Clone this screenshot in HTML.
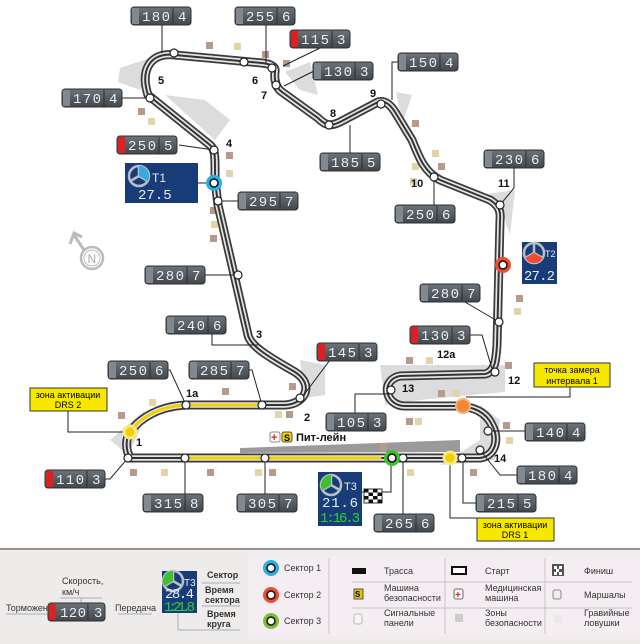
<!DOCTYPE html>
<html><head><meta charset="utf-8"><style>
html,body{margin:0;padding:0;background:#fff;width:640px;height:644px;overflow:hidden}
svg{display:block}
text{font-family:"Liberation Sans",sans-serif}
.d{font-family:"Liberation Mono",monospace;fill:#e8eef0;font-size:14px}
.n{font-size:11px;font-weight:bold;fill:#111}
.l{font-size:9px;fill:#333}
.ln{stroke:#222;stroke-width:1;fill:none}
</style></head><body>
<svg width="640" height="644" viewBox="0 0 640 644" xmlns="http://www.w3.org/2000/svg">
<defs>
<linearGradient id="bg" x1="0" y1="0" x2="0" y2="1"><stop offset="0" stop-color="#6c7379"/><stop offset="1" stop-color="#41474c"/></linearGradient>
<g id="bx"><rect x="0" y="0" width="60" height="18" rx="3" fill="url(#bg)" stroke="#2b2f33"/><rect x="1" y="1" width="7" height="16" fill="#818890"/><line x1="42" y1="1" x2="42" y2="17" stroke="#2b2f33"/></g>
<g id="bxr"><rect x="0" y="0" width="60" height="18" rx="3" fill="url(#bg)" stroke="#2b2f33"/><rect x="1" y="1" width="7" height="16" fill="#e02020"/><line x1="42" y1="1" x2="42" y2="17" stroke="#2b2f33"/></g>
<g id="star"><circle r="10" fill="none" stroke="#b8c0c6" stroke-width="2.5"/><path d="M0,0 L0,-9 M0,0 L7.8,4.5 M0,0 L-7.8,4.5" stroke="#b8c0c6" stroke-width="2.5"/></g>
<path id="tr" d="M130,458 L480,458 C495,456 500,440 492,425 C485,410 470,406 455,406 L405,406 C385,406 380,380 400,376 L485,374 C495,372 496,360 497,345 L500,220 C501,210 498,205 490,200 L440,180 C425,172 420,160 412,140 L395,112 C390,104 384,100 378,102 L340,122 C330,127 325,125 318,118 L282,92 C276,88 274,80 275,72 C276,66 270,64 262,63 L175,55 C150,52 140,70 148,95 L210,145 C216,150 215,160 215,180 L218,205 L248,335 C250,345 265,355 295,372 C315,385 305,404 285,405 L190,405 C160,405 140,418 130,432 C125,440 126,450 130,458 Z"/>
</defs>

<!-- runoff areas -->
<g fill="#dcdcdc">
<path d="M120,68 L150,58 L140,90 L118,82Z"/>
<path d="M165,95 L205,100 L230,120 L215,140 Z"/>
<path d="M285,72 L310,62 L318,95 L300,90 Z"/>
<path d="M396,92 L412,95 L402,125 Z"/>
<path d="M440,180 L480,195 L515,190 L510,235 L500,205 L455,190 Z"/>
<path d="M110,440 L145,410 L140,430 L128,455 Z"/>
<path d="M300,360 L325,365 L325,395 L305,398 Z"/>
<path d="M380,365 L505,365 L505,392 L470,395 L420,400 L385,405 Z"/>
<path d="M480,405 L500,420 L495,460 L440,465 L480,440Z"/>
<path d="M240,448 L460,440 L460,452 L240,453 Z" fill="#9a9a9a"/>
</g>
<!-- marshal squares -->
<g fill="#b89a8a">
<rect x="206" y="42" width="7" height="7"/><rect x="262" y="51" width="7" height="7"/><rect x="138" y="108" width="7" height="7"/><rect x="226" y="152" width="7" height="7"/><rect x="412" y="120" width="7" height="7"/><rect x="438" y="163" width="7" height="7"/><rect x="210" y="235" width="7" height="7"/><rect x="516" y="295" width="7" height="7"/><rect x="210" y="207" width="7" height="7"/><rect x="283" y="60" width="7" height="7"/><rect x="118" y="412" width="7" height="7"/><rect x="222" y="388" width="7" height="7"/><rect x="289" y="383" width="7" height="7"/><rect x="286" y="411" width="7" height="7"/><rect x="130" y="469" width="7" height="7"/><rect x="207" y="469" width="7" height="7"/><rect x="269" y="469" width="7" height="7"/><rect x="406" y="357" width="7" height="7"/><rect x="505" y="362" width="7" height="7"/><rect x="438" y="390" width="7" height="7"/><rect x="406" y="418" width="7" height="7"/><rect x="503" y="422" width="7" height="7"/><rect x="470" y="469" width="7" height="7"/><rect x="380" y="443" width="7" height="7"/></g>
<g fill="#e0d4a8">
<rect x="234" y="43" width="7" height="7"/><rect x="148" y="118" width="7" height="7"/><rect x="226" y="170" width="7" height="7"/><rect x="432" y="150" width="7" height="7"/><rect x="211" y="221" width="7" height="7"/><rect x="412" y="163" width="7" height="7"/><rect x="514" y="308" width="7" height="7"/><rect x="149" y="399" width="7" height="7"/><rect x="275" y="411" width="7" height="7"/><rect x="161" y="469" width="7" height="7"/><rect x="255" y="469" width="7" height="7"/><rect x="426" y="357" width="7" height="7"/><rect x="453" y="390" width="7" height="7"/><rect x="415" y="418" width="7" height="7"/><rect x="506" y="437" width="7" height="7"/><rect x="407" y="469" width="7" height="7"/><rect x="410" y="178" width="7" height="7"/></g>

<!-- track -->
<g fill="none" stroke-linejoin="round" stroke-linecap="round">
<use href="#tr" stroke="#3a3a3a" stroke-width="9"/>
<use href="#tr" stroke="#e4e4e4" stroke-width="5.5"/>
<use href="#tr" stroke="#333" stroke-width="2"/>
<path d="M185,458 L380,458" stroke="#f0d000" stroke-width="3"/>
<path d="M130,432 C140,418 160,405 190,405 L262,405" stroke="#f0d000" stroke-width="3"/>
</g>

<!-- connector lines -->
<g class="ln">
<path d="M162,25 V53"/><path d="M266,25 V63"/><path d="M320,48 L283,66"/><path d="M314,71 L284,86"/><path d="M400,62 H392 V100"/>
<path d="M120,98 H150"/><path d="M179,145 L214,150"/><path d="M198,183 H214"/><path d="M238,201 H218"/><path d="M350,153 V125"/>
<path d="M514,168 V188 L500,205"/><path d="M434,177 V205"/><path d="M205,275 H238"/><path d="M465,302 L499,322"/>
<path d="M212,334 V345 H258"/><path d="M470,335 H482 L493,372"/><path d="M348,343 L330,360 L300,400"/>
<path d="M158,370 H170 L186,405"/><path d="M244,370 H252 L262,405"/><path d="M355,413 V394 H391"/>
<path d="M525,431 H488"/><path d="M517,475 H500 L480,450"/><path d="M476,503 H463 V458"/><path d="M403,514 V458"/>
<path d="M103,479 H110 L128,458"/><path d="M185,494 V458"/><path d="M265,494 V458"/>
<path d="M362,492 H391 V460"/><path d="M570,380 V397 H466"/><path d="M450,458 V518 H477"/><path d="M68,406 V432 H130"/>
</g>

<!-- nodes -->
<g fill="#fff" stroke="#222" stroke-width="1.2">
<circle cx="174" cy="53" r="4"/><circle cx="244" cy="62" r="4"/><circle cx="272" cy="68" r="4"/><circle cx="276" cy="85" r="4"/><circle cx="329" cy="125" r="4"/><circle cx="381" cy="104" r="4"/><circle cx="150" cy="98" r="4"/><circle cx="214" cy="150" r="4"/><circle cx="218" cy="201" r="4"/><circle cx="434" cy="177" r="4"/><circle cx="500" cy="205" r="4"/><circle cx="238" cy="275" r="4"/><circle cx="499" cy="322" r="4"/><circle cx="495" cy="372" r="4"/><circle cx="300" cy="398" r="4"/><circle cx="262" cy="405" r="4"/><circle cx="186" cy="405" r="4"/><circle cx="391" cy="390" r="4"/><circle cx="488" cy="431" r="4"/><circle cx="480" cy="450" r="4"/><circle cx="462" cy="458" r="4"/><circle cx="403" cy="458" r="4"/><circle cx="128" cy="458" r="4"/><circle cx="185" cy="458" r="4"/><circle cx="265" cy="458" r="4"/>
</g>
<circle cx="214" cy="183" r="6" fill="#fff" stroke="#2ab0e0" stroke-width="4"/><circle cx="214" cy="183" r="4" fill="none" stroke="#111" stroke-width="1.5"/>
<circle cx="503" cy="265" r="6" fill="#fff" stroke="#f04a30" stroke-width="4"/><circle cx="503" cy="265" r="4" fill="none" stroke="#111" stroke-width="1.5"/>
<circle cx="392" cy="458" r="6" fill="#fff" stroke="#40c030" stroke-width="4"/><circle cx="392" cy="458" r="4" fill="none" stroke="#111" stroke-width="1.5"/>
<circle cx="463" cy="406" r="7" fill="#f08a30" stroke="#f0b080" stroke-width="2"/>
<circle cx="450" cy="458" r="6" fill="#f0d000" stroke="#f8e880" stroke-width="3"/>
<circle cx="130" cy="432" r="6" fill="#f0d000" stroke="#f8e880" stroke-width="3"/>

<!-- turn numbers -->
<g class="n">
<text x="158" y="84">5</text><text x="252" y="84">6</text><text x="261" y="99">7</text><text x="330" y="117">8</text><text x="370" y="97">9</text><text x="226" y="147">4</text><text x="411" y="187">10</text><text x="498" y="187">11</text><text x="256" y="338">3</text><text x="437" y="358">12a</text><text x="508" y="384">12</text><text x="402" y="392">13</text><text x="186" y="397">1a</text><text x="304" y="421">2</text><text x="136" y="446">1</text><text x="494" y="462">14</text>
</g>

<!-- speed boxes -->
<g>
<use href="#bx" x="131" y="7"/><text class="d" x="142" y="21" textLength="28">180</text><text class="d" x="178" y="21">4</text>
<use href="#bx" x="235" y="7"/><text class="d" x="246" y="21" textLength="28">255</text><text class="d" x="282" y="21">6</text>
<use href="#bxr" x="290" y="30"/><text class="d" x="301" y="44" textLength="28">115</text><text class="d" x="337" y="44">3</text>
<use href="#bx" x="313" y="62"/><text class="d" x="324" y="76" textLength="28">130</text><text class="d" x="360" y="76">3</text>
<use href="#bx" x="398" y="53"/><text class="d" x="409" y="67" textLength="28">150</text><text class="d" x="445" y="67">4</text>
<use href="#bx" x="62" y="89"/><text class="d" x="73" y="103" textLength="28">170</text><text class="d" x="109" y="103">4</text>
<use href="#bxr" x="117" y="136"/><text class="d" x="128" y="150" textLength="28">250</text><text class="d" x="164" y="150">5</text>
<use href="#bx" x="238" y="192"/><text class="d" x="249" y="206" textLength="28">295</text><text class="d" x="285" y="206">7</text>
<use href="#bx" x="320" y="153"/><text class="d" x="331" y="167" textLength="28">185</text><text class="d" x="367" y="167">5</text>
<use href="#bx" x="484" y="150"/><text class="d" x="495" y="164" textLength="28">230</text><text class="d" x="531" y="164">6</text>
<use href="#bx" x="395" y="205"/><text class="d" x="406" y="219" textLength="28">250</text><text class="d" x="442" y="219">6</text>
<use href="#bx" x="145" y="266"/><text class="d" x="156" y="280" textLength="28">280</text><text class="d" x="192" y="280">7</text>
<use href="#bx" x="420" y="284"/><text class="d" x="431" y="298" textLength="28">280</text><text class="d" x="467" y="298">7</text>
<use href="#bx" x="166" y="316"/><text class="d" x="177" y="330" textLength="28">240</text><text class="d" x="213" y="330">6</text>
<use href="#bxr" x="410" y="326"/><text class="d" x="421" y="340" textLength="28">130</text><text class="d" x="457" y="340">3</text>
<use href="#bxr" x="317" y="343"/><text class="d" x="328" y="357" textLength="28">145</text><text class="d" x="364" y="357">3</text>
<use href="#bx" x="108" y="361"/><text class="d" x="119" y="375" textLength="28">250</text><text class="d" x="155" y="375">6</text>
<use href="#bx" x="189" y="361"/><text class="d" x="200" y="375" textLength="28">285</text><text class="d" x="236" y="375">7</text>
<use href="#bx" x="326" y="413"/><text class="d" x="337" y="427" textLength="28">105</text><text class="d" x="373" y="427">3</text>
<use href="#bx" x="525" y="423"/><text class="d" x="536" y="437" textLength="28">140</text><text class="d" x="572" y="437">4</text>
<use href="#bx" x="517" y="466"/><text class="d" x="528" y="480" textLength="28">180</text><text class="d" x="564" y="480">4</text>
<use href="#bx" x="476" y="494"/><text class="d" x="487" y="508" textLength="28">215</text><text class="d" x="523" y="508">5</text>
<use href="#bx" x="374" y="514"/><text class="d" x="385" y="528" textLength="28">265</text><text class="d" x="421" y="528">6</text>
<use href="#bxr" x="45" y="470"/><text class="d" x="56" y="484" textLength="28">110</text><text class="d" x="92" y="484">3</text>
<use href="#bx" x="143" y="494"/><text class="d" x="154" y="508" textLength="28">315</text><text class="d" x="190" y="508">8</text>
<use href="#bx" x="237" y="494"/><text class="d" x="248" y="508" textLength="28">305</text><text class="d" x="284" y="508">7</text>
</g>

<!-- sector boxes -->
<rect x="125" y="163" width="73" height="40" fill="#183c78"/>
<use href="#star" x="139" y="176"/><path d="M139,176 L139,166 A10,10 0 0 1 147.7,181Z" fill="#3aa8e0"/>
<text x="152" y="182" fill="#e8eef0" font-size="12">T1</text><text x="138" y="199" class="d" font-size="13">27.5</text>
<rect x="522" y="242" width="35" height="42" fill="#183c78"/>
<use href="#star" x="534" y="253"/><path d="M534,253 L542.7,258 A10,10 0 0 1 525.3,258Z" fill="#f04a30"/>
<text x="545" y="257" fill="#e8eef0" font-size="9">T2</text><text x="524" y="280" class="d" font-size="12" textLength="31">27.2</text>
<rect x="318" y="472" width="44" height="54" fill="#183c78"/>
<use href="#star" x="331" y="485"/><path d="M331,485 L331,475 A10,10 0 0 0 322.3,490Z" fill="#40c030"/>
<text x="344" y="490" fill="#e8eef0" font-size="11">T3</text><text x="322" y="507" class="d" font-size="13" textLength="36">21.6</text><text x="320" y="522" class="d" font-size="12" textLength="40" style="fill:#30d030">1:16.3</text>
<!-- finish flag -->
<g fill="#111"><rect x="364" y="489" width="18" height="14" fill="#fff" stroke="#333"/><rect x="364" y="489" width="4.5" height="3.5"/><rect x="373" y="489" width="4.5" height="3.5"/><rect x="368.5" y="492.5" width="4.5" height="3.5"/><rect x="377.5" y="492.5" width="4.5" height="3.5"/><rect x="364" y="496" width="4.5" height="3.5"/><rect x="373" y="496" width="4.5" height="3.5"/><rect x="368.5" y="499.5" width="4.5" height="3.5"/><rect x="377.5" y="499.5" width="4.5" height="3.5"/></g>

<!-- pit lane label -->
<rect x="270" y="432" width="10" height="10" rx="2" fill="#fff" stroke="#888"/><text x="271" y="441" fill="#e02020" font-size="11" font-weight="bold">+</text>
<rect x="282" y="432" width="10" height="10" rx="2" fill="#f0d000" stroke="#555"/><text x="284" y="441" font-size="9" font-weight="bold">S</text>
<text x="296" y="441" font-size="11" font-weight="bold" fill="#111">Пит-лейн</text>

<!-- yellow labels -->
<rect x="30" y="388" width="77" height="23" fill="#f8e800" stroke="#333"/><text x="68" y="398" text-anchor="middle" font-size="9">зона активации</text><text x="68" y="408" text-anchor="middle" font-size="9">DRS 2</text>
<rect x="534" y="363" width="76" height="24" fill="#f8e800" stroke="#333"/><text x="572" y="373" text-anchor="middle" font-size="9">точка замера</text><text x="572" y="384" text-anchor="middle" font-size="9">интервала 1</text>
<rect x="477" y="518" width="77" height="23" fill="#f8e800" stroke="#333"/><text x="515" y="528" text-anchor="middle" font-size="9">зона активации</text><text x="515" y="538" text-anchor="middle" font-size="9">DRS 1</text>

<!-- compass -->
<circle cx="92" cy="258" r="11" fill="none" stroke="#bbb" stroke-width="2.5"/><circle cx="92" cy="258" r="8" fill="none" stroke="#bbb" stroke-width="1"/><text x="87.5" y="263" font-size="12" fill="#aaa">N</text>
<path d="M84,250 L74,235 M70,244 L74,233 L82,237" stroke="#bbb" stroke-width="3" fill="none"/>

<!-- legend -->
<rect x="0" y="549" width="640" height="95" fill="#eeecea"/>
<line x1="0" y1="549" x2="640" y2="549" stroke="#9a9090" stroke-width="2"/>
<rect x="248" y="555" width="392" height="82" fill="#f4eef2"/>
<g stroke="#c8c0c4"><line x1="329" y1="558" x2="329" y2="634"/><line x1="445" y1="558" x2="445" y2="634"/><line x1="545" y1="558" x2="545" y2="634"/><line x1="352" y1="582" x2="632" y2="582"/><line x1="352" y1="608" x2="632" y2="608"/></g>
<g class="l">
<text x="6" y="611">Торможение</text><text x="62" y="584">Скорость,</text><text x="62" y="595">км/ч</text><text x="115" y="611">Передача</text>
</g>
<g stroke="#aab" fill="none"><line x1="6" y1="614" x2="48" y2="614"/><line x1="60" y1="598" x2="102" y2="598"/><line x1="81" y1="598" x2="81" y2="604"/><line x1="118" y1="614" x2="152" y2="614"/></g>
<use href="#bxr" x="50" y="603" transform="translate(10,0) scale(0.95,1) translate(-10,0)"/><text class="d" x="60" y="617" textLength="26">120</text><text class="d" x="94" y="617">3</text>
<rect x="162" y="571" width="35" height="42" fill="#183c78"/>
<use href="#star" x="173" y="581"/><path d="M173,581 L173,571 A10,10 0 0 0 164.3,586Z" fill="#40c030"/>
<text x="184" y="586" fill="#e8eef0" font-size="10">T3</text><text x="165" y="598" class="d" font-size="11" textLength="29">28.4</text><text x="164" y="611" class="d" font-size="11" textLength="31" style="fill:#30d030">1:21.8</text>
<g class="l" font-weight="bold" fill="#222"><text x="207" y="578">Сектор</text><text x="205" y="593">Время</text><text x="205" y="603">сектора</text><text x="207" y="617">Время</text><text x="207" y="627">круга</text></g>
<g stroke="#aab"><line x1="202" y1="583" x2="240" y2="583"/><line x1="202" y1="606" x2="240" y2="606"/><line x1="178" y1="630" x2="240" y2="630"/><line x1="178" y1="613" x2="178" y2="630"/></g>
<circle cx="271" cy="568" r="6" fill="#fff" stroke="#2ab0e0" stroke-width="4"/><circle cx="271" cy="568" r="4" fill="none" stroke="#111" stroke-width="1.5"/>
<circle cx="271" cy="595" r="6" fill="#fff" stroke="#f04a30" stroke-width="4"/><circle cx="271" cy="595" r="4" fill="none" stroke="#111" stroke-width="1.5"/>
<circle cx="271" cy="621" r="6" fill="#fff" stroke="#80c030" stroke-width="4"/><circle cx="271" cy="621" r="4" fill="none" stroke="#111" stroke-width="1.5"/>
<g class="l"><text x="284" y="571">Сектор 1</text><text x="284" y="598">Сектор 2</text><text x="284" y="624">Сектор 3</text>
<text x="384" y="574">Трасса</text><text x="384" y="591">Машина</text><text x="384" y="601">безопасности</text><text x="384" y="616">Сигнальные</text><text x="384" y="626">панели</text>
<text x="485" y="574">Старт</text><text x="485" y="591">Медицинская</text><text x="485" y="601">машина</text><text x="485" y="616">Зоны</text><text x="485" y="626">безопасности</text>
<text x="584" y="574">Финиш</text><text x="584" y="598">Маршалы</text><text x="584" y="616">Гравийные</text><text x="584" y="626">ловушки</text></g>
<rect x="352" y="568" width="14" height="6" fill="#111"/>
<rect x="354" y="589" width="9" height="10" fill="#e0c800" stroke="#555"/><text x="355" y="597" font-size="8" font-weight="bold">S</text>
<rect x="354" y="614" width="8" height="10" rx="2" fill="#f4f4f4" stroke="#bbb"/>
<rect x="452" y="567" width="14" height="7" fill="#fff" stroke="#111" stroke-width="2"/>
<rect x="454" y="589" width="9" height="10" rx="2" fill="#fff" stroke="#666"/><text x="455" y="598" fill="#e02020" font-size="10" font-weight="bold">+</text>
<rect x="455" y="614" width="8" height="8" fill="#ccc"/>
<rect x="552" y="564" width="12" height="12" fill="#555"/><rect x="554" y="566" width="3" height="3" fill="#fff"/><rect x="559" y="566" width="3" height="3" fill="#fff"/><rect x="556" y="569" width="3" height="3" fill="#fff"/><rect x="554" y="572" width="3" height="3" fill="#fff"/><rect x="559" y="572" width="3" height="3" fill="#fff"/>
<rect x="553" y="590" width="8" height="9" rx="2" fill="#eee" stroke="#888"/>
<rect x="554" y="615" width="8" height="8" fill="#e8e8e8"/>
</svg>
</body></html>
